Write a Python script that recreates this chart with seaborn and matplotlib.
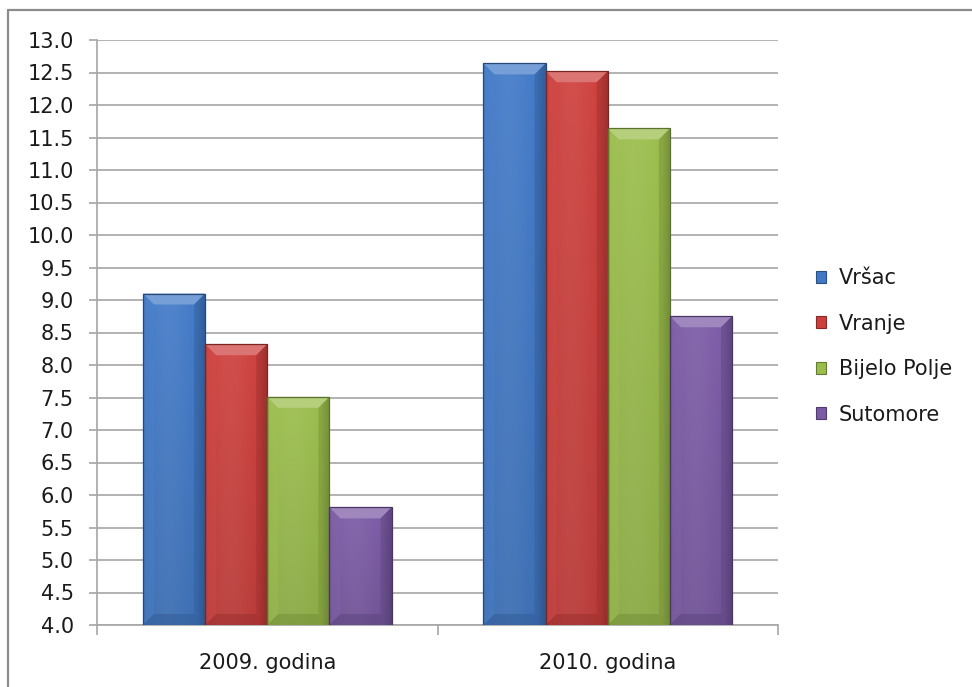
import numpy as np
import pandas as pd
import matplotlib
matplotlib.use("Agg")
import matplotlib.pyplot as plt
from matplotlib.patches import Polygon, Patch
from matplotlib.lines import Line2D
from matplotlib.colors import to_rgb
import seaborn as sns

# ---- data ----
years = ["2009. godina", "2010. godina"]
cities = ["Vršac", "Vranje", "Bijelo Polje", "Sutomore"]
vrsac = [9.10, 12.64]
vranje = [8.32, 12.52]
bijelo_polje = [7.51, 11.64]
sutomore = [5.81, 8.75]
colors = ["#4179C7", "#CD3F3C", "#9ABD4B", "#7B5AA6"]
yticks = np.arange(4.0, 13.01, 0.5)

df = pd.DataFrame({
    "godina": years * 4,
    "grad": np.repeat(cities, len(years)),
    "vrijednost": vrsac + vranje + bijelo_polje + sutomore,
})

sns.set_theme(style="white")
plt.rcParams["font.family"] = ["DejaVu Sans"]

W, H = 972, 687
fig = plt.figure(figsize=(W / 100, H / 100), dpi=100)
ax_l, ax_r, ax_t, ax_b = 97, 778, 40, 625
ax = fig.add_axes([ax_l / W, 1 - ax_b / H, (ax_r - ax_l) / W, (ax_b - ax_t) / H])

sns.barplot(data=df, x="godina", y="vrijednost", hue="grad", order=years,
            hue_order=cities, palette=colors, width=0.73, saturation=1,
            errorbar=None, legend=False, ax=ax, zorder=3)

ymin, ymax = 4.0, 13.0
ax.set_ylim(ymin, ymax)
ax.set_xlim(-0.5, 1.5)

# data units per pixel, for bevel sizes
dxp = 2.0 / (ax_r - ax_l)
dyp = (ymax - ymin) / (ax_b - ax_t)


def shade(c, k):
    c = np.asarray(c)
    return c + (1 - c) * k if k >= 0 else c * (1 + k)


# gradient fill and bevelled edges on every bar
for p in list(ax.patches):
    h = p.get_height()
    if not np.isfinite(h) or h <= 0:
        continue
    x0, w = p.get_x(), p.get_width()
    top = p.get_y() + h
    bot = max(p.get_y(), ymin)
    base = np.array(to_rgb(p.get_facecolor()))

    t = np.linspace(0, 1, 80)
    s = np.linspace(0, 1, 80)
    light = 0.08 * np.exp(-((t - 0.4) / 0.35) ** 2)
    dark_h = 0.22 * np.clip((t - 0.86) / 0.14, 0, 1) + 0.06 * np.clip((0.05 - t) / 0.05, 0, 1)
    dark_v = 0.10 * (1 - s)
    img = base[None, None, :] + (1 - base[None, None, :]) * light[None, :, None]
    img = img * (1 - dark_h[None, :, None] - dark_v[:, None, None])
    img = np.clip(img, 0, 1)
    im = ax.imshow(img, extent=[x0, x0 + w, bot, top], origin="lower",
                   aspect="auto", interpolation="bilinear", zorder=3.1)
    im.set_clip_path(p)

    bx, by = 11 * dxp, 11 * dyp
    ax.add_patch(Polygon([(x0, top), (x0 + w, top), (x0 + w - bx, top - by), (x0 + bx, top - by)],
                         closed=True, facecolor=shade(base, 0.28), edgecolor="none", zorder=3.2))
    ax.add_patch(Polygon([(x0 + w, top), (x0 + w, bot), (x0 + w - bx, bot + by), (x0 + w - bx, top - by)],
                         closed=True, facecolor=shade(base, -0.25), alpha=0.45, edgecolor="none", zorder=3.2))
    ax.add_patch(Polygon([(x0, top), (x0, bot), (x0 + bx, bot + by), (x0 + bx, top - by)],
                         closed=True, facecolor=shade(base, 0.08), alpha=0.35, edgecolor="none", zorder=3.2))
    ax.add_patch(Polygon([(x0, bot), (x0 + w, bot), (x0 + w - bx, bot + by), (x0 + bx, bot + by)],
                         closed=True, facecolor=shade(base, -0.25), alpha=0.5, edgecolor="none", zorder=3.2))
    p.set_edgecolor(shade(base, -0.40))
    p.set_linewidth(0.9)
    p.set_zorder(3.3)
    p.set_facecolor("none")

ax.set_xlim(-0.5, 1.5)
ax.set_ylim(ymin, ymax)

# axes styling
grid_c = "#A6A6A6"
fs = 15
ax.set_yticks(yticks)
ax.set_yticklabels([f"{v:.1f}" for v in yticks])
ax.yaxis.grid(True, color=grid_c, lw=1.2)
ax.xaxis.grid(False)
ax.set_axisbelow(True)
for side in ("top", "right"):
    ax.spines[side].set_visible(False)
for side in ("left", "bottom"):
    ax.spines[side].set_color(grid_c)
    ax.spines[side].set_linewidth(1.2)

ax.tick_params(axis="y", which="major", direction="out", length=5.8, width=1.2,
               color=grid_c, pad=11, labelsize=fs, labelcolor="#1a1a1a", left=True)
ax.set_xticks([0, 1])
ax.set_xticklabels(years)
ax.set_xticks([-0.5, 0.5, 1.5], minor=True)
ax.tick_params(axis="x", which="major", length=0, pad=20, labelsize=fs, labelcolor="#1a1a1a")
ax.tick_params(axis="x", which="minor", direction="out", length=7.5, width=1.2,
               color=grid_c, bottom=True)
ax.set_xlabel("")
ax.set_ylabel("")

# legend
handles = [Patch(facecolor=c, edgecolor=shade(np.array(to_rgb(c)), -0.35), lw=0.8) for c in colors]
fig.legend(handles, cities, loc="center left", bbox_to_anchor=(816 / W, 1 - 346.5 / H),
           frameon=False, fontsize=fs, handlelength=0.5, handleheight=0.5,
           handletextpad=0.6, labelspacing=1.22, borderaxespad=0, borderpad=0,
           labelcolor="#1a1a1a")

# chart-area border (top and left edges)
border_c = "#8C8C8C"
fig.add_artist(Line2D([8 / W, 1], [1 - 10 / H, 1 - 10 / H], transform=fig.transFigure,
                      color=border_c, lw=1.6))
fig.add_artist(Line2D([8 / W, 8 / W], [0, 1 - 10 / H], transform=fig.transFigure,
                      color=border_c, lw=1.6))

fig.savefig("out.png", dpi=100)
